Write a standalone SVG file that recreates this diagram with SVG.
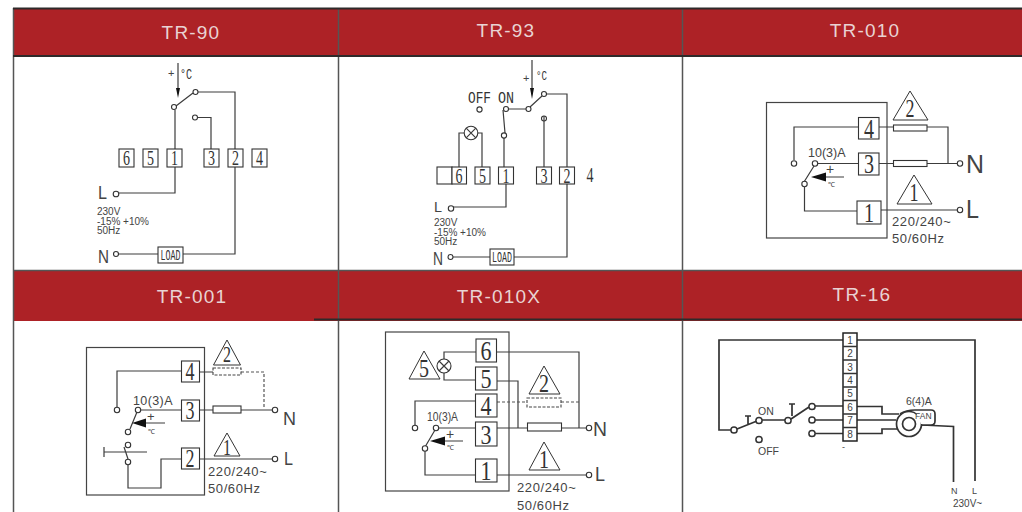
<svg xmlns="http://www.w3.org/2000/svg" width="1022" height="512" viewBox="0 0 1022 512">
<style>
.hd{fill:#ad2226}
.ti{font:19px "Liberation Sans",Arial,sans-serif;fill:#e9d3d3;text-anchor:middle;letter-spacing:1.2px}
.w{fill:none;stroke:#3c3c3c;stroke-width:1.2}
.d{fill:none;stroke:#555;stroke-width:1.2;stroke-dasharray:3 2}
.c{fill:#fff;stroke:#333;stroke-width:1.1}
.b{fill:#fff;stroke:#333;stroke-width:1.1}
.o{fill:none;stroke:#444;stroke-width:1.2}
.r{fill:#fff;stroke:#333;stroke-width:1.1}
.rd{fill:#fff;stroke:#444;stroke-width:1.1;stroke-dasharray:3 1.5}
.t{fill:#fff;stroke:#333;stroke-width:1}
.n{font-family:"Liberation Serif",serif;fill:#333;text-anchor:middle}
.s{font-family:"Liberation Sans",Arial,sans-serif;fill:#444}
.m{font-family:"Liberation Mono",monospace;fill:#333}
.a{fill:#111}
.fr{stroke:#555;stroke-width:1.5;fill:none}
.fd{stroke:#2e2a2a;stroke-width:1.8;fill:none}
</style>
<rect width="1022" height="512" fill="#fff"/>
<g id="grid">
<rect class="hd" x="13" y="8" width="1009" height="48"/>
<rect class="hd" x="13" y="271" width="1009" height="50"/>
<path class="fr" d="M13.5 8V512M338.5 8V512M682.5 8V512M13 270.5H1022"/>
<path class="fd" d="M13 8.5H1022M13 56H1022M314 319.5H1022"/>
<text class="ti" x="191" y="39">TR-90</text>
<text class="ti" x="506" y="37">TR-93</text>
<text class="ti" x="865" y="37">TR-010</text>
<text class="ti" x="192" y="303">TR-001</text>
<text class="ti" x="499" y="303">TR-010X</text>
<text class="ti" x="862" y="301">TR-16</text>
</g>

<g id="tr90">
<g id="tr90-connectors">
<path class="w" d="M178 63V90M198 92H235V254H183M175 110V193H119M198 117.500H211V149M176 106L193 93M119 254H158"/>
<path class="a" d="M176 88H180L178 98Z"/>
</g>
<text class="s" x="168" y="77" font-size="11">+</text>
<text class="m" x="180" y="79" font-size="15" textLength="12" lengthAdjust="spacingAndGlyphs">°C</text>
<circle class="c" cx="195.500" cy="92" r="2.500"/><circle class="c" cx="174" cy="107" r="2.500"/><circle class="c" cx="195" cy="117.500" r="2.500"/>
<g id="tr90-t6"><rect class="b" x="119" y="149" width="15" height="18"/><text class="n" x="126.500" y="165" font-size="22" textLength="7" lengthAdjust="spacingAndGlyphs">6</text></g>
<g id="tr90-t5"><rect class="b" x="143" y="149" width="15" height="18"/><text class="n" x="150.500" y="165" font-size="22" textLength="7" lengthAdjust="spacingAndGlyphs">5</text></g>
<g id="tr90-t1"><rect class="b" x="167" y="149" width="15" height="18"/><text class="n" x="174.500" y="165" font-size="22" textLength="7" lengthAdjust="spacingAndGlyphs">1</text></g>
<g id="tr90-t3"><rect class="b" x="204" y="149" width="15" height="18"/><text class="n" x="211.500" y="165" font-size="22" textLength="7" lengthAdjust="spacingAndGlyphs">3</text></g>
<g id="tr90-t2"><rect class="b" x="228" y="149" width="15" height="18"/><text class="n" x="235.500" y="165" font-size="22" textLength="7" lengthAdjust="spacingAndGlyphs">2</text></g>
<g id="tr90-t4"><rect class="b" x="252" y="149" width="15" height="18"/><text class="n" x="259.500" y="165" font-size="22" textLength="7" lengthAdjust="spacingAndGlyphs">4</text></g>
<text class="s" x="98" y="199" font-size="18" textLength="9" lengthAdjust="spacingAndGlyphs">L</text>
<circle class="c" cx="116" cy="194" r="2.800"/>
<text class="s" x="97" y="214.500" font-size="10">230V</text>
<text class="s" x="97" y="225" font-size="10">-15% +10%</text>
<text class="s" x="97" y="234" font-size="10">50Hz</text>
<text class="s" x="98" y="263" font-size="19" textLength="11" lengthAdjust="spacingAndGlyphs">N</text>
<circle class="c" cx="116" cy="254" r="2.500"/>
<g id="tr90-load"><rect class="b" x="158" y="247" width="25" height="16"/><text class="m" x="160.500" y="260" font-size="14" textLength="20" lengthAdjust="spacingAndGlyphs">LOAD</text></g>
</g>

<g id="tr93">
<g id="tr93-connectors">
<path class="w" d="M532 60V90M503 110L505 133M508 109H526M530 107L542 96M546 94H567V167M567 184V257H514M544 118V167M504 138V167M506 184V207H453M453 257H490M464 133H459V167M478 133H482V167"/>
<path class="a" d="M530 88H534L532 99Z"/>
</g>
<text class="s" x="523" y="82" font-size="11">+</text>
<text class="m" x="536" y="80" font-size="13" textLength="11" lengthAdjust="spacingAndGlyphs">°C</text>
<text class="m" x="468" y="103" font-size="16" textLength="23" lengthAdjust="spacingAndGlyphs">OFF</text>
<text class="m" x="498" y="103" font-size="16" textLength="16" lengthAdjust="spacingAndGlyphs">ON</text>
<circle class="c" cx="479.500" cy="109.500" r="2.600"/><circle class="c" cx="506" cy="109" r="2.500"/><circle class="c" cx="528.500" cy="109" r="2.500"/><circle class="c" cx="544" cy="94" r="2.500"/><circle class="c" cx="504" cy="135.500" r="2.600"/>
<circle class="c" cx="544" cy="118.500" r="2.500"/><path class="w" d="M544 116V121"/>
<g id="tr93-lamp"><circle class="c" cx="471" cy="133" r="6.800"/><path class="w" d="M466.200 128.200L475.800 137.800M475.800 128.200L466.200 137.800"/></g>
<rect class="b" x="437" y="167" width="15" height="17"/>
<g id="tr93-t6"><rect class="b" x="452" y="167" width="14.500" height="17"/><text class="n" x="459" y="182.500" font-size="22" textLength="7" lengthAdjust="spacingAndGlyphs">6</text></g>
<g id="tr93-t5"><rect class="b" x="475" y="167" width="15" height="17"/><text class="n" x="482.500" y="182.500" font-size="22" textLength="7" lengthAdjust="spacingAndGlyphs">5</text></g>
<g id="tr93-t1"><rect class="b" x="498.500" y="167" width="15" height="17"/><text class="n" x="506" y="182.500" font-size="22" textLength="7" lengthAdjust="spacingAndGlyphs">1</text></g>
<g id="tr93-t3"><rect class="b" x="536.500" y="167" width="15" height="17"/><text class="n" x="544" y="182.500" font-size="22" textLength="7" lengthAdjust="spacingAndGlyphs">3</text></g>
<g id="tr93-t2"><rect class="b" x="559.500" y="167" width="15" height="17"/><text class="n" x="567" y="182.500" font-size="22" textLength="7" lengthAdjust="spacingAndGlyphs">2</text></g>
<text class="n" x="590" y="181.500" font-size="22" textLength="7" lengthAdjust="spacingAndGlyphs">4</text>
<text class="s" x="434" y="212" font-size="15" textLength="8" lengthAdjust="spacingAndGlyphs">L</text>
<circle class="c" cx="451" cy="208.500" r="2.700"/>
<text class="s" x="434" y="226" font-size="10">230V</text>
<text class="s" x="434" y="236" font-size="10">-15% +10%</text>
<text class="s" x="434" y="245" font-size="10">50Hz</text>
<text class="s" x="433" y="265" font-size="18" textLength="10" lengthAdjust="spacingAndGlyphs">N</text>
<circle class="c" cx="450.500" cy="257" r="2.500"/>
<g id="tr93-load"><rect class="b" x="490" y="249" width="24" height="16"/><text class="m" x="492" y="262" font-size="14" textLength="20" lengthAdjust="spacingAndGlyphs">LOAD</text></g>
</g>

<g id="tr010">
<rect class="o" x="766.500" y="102.500" width="120.500" height="135.500"/>
<g id="tr010-connectors">
<path class="w" d="M858 127H794V160M818 163.500H858M804 182L814 166M804.500 187V211H857M879 127H948V163.500M879 163.500H957M881 210H957M826 177H844"/>
<path class="a" d="M811 177L826 172.500V181.500Z"/>
</g>
<text class="s" x="826" y="174" font-size="14" fill="#333">+</text>
<text class="n" x="831" y="187" font-size="7">℃</text>
<text class="s" x="808" y="157" font-size="12.500">10(3)A</text>
<circle class="c" cx="794" cy="163.500" r="2.700"/><circle class="c" cx="815" cy="163.500" r="2.700"/><circle class="c" cx="804.500" cy="184" r="2.700"/><circle class="c" cx="960" cy="163.500" r="2.700"/><circle class="c" cx="960" cy="210" r="2.700"/>
<rect class="r" x="893.500" y="125" width="33.500" height="6"/><rect class="r" x="893.500" y="160.500" width="33.500" height="6"/>
<g id="tr010-t4"><rect class="b" x="858.500" y="117.500" width="20.500" height="21.500"/><text class="n" x="869" y="137.500" font-size="27" textLength="10" lengthAdjust="spacingAndGlyphs">4</text></g>
<g id="tr010-t3"><rect class="b" x="858.500" y="153" width="20.500" height="22"/><text class="n" x="869" y="173" font-size="27" textLength="10" lengthAdjust="spacingAndGlyphs">3</text></g>
<g id="tr010-t1"><rect class="b" x="857" y="201" width="24" height="23"/><text class="n" x="869" y="222" font-size="27" textLength="10" lengthAdjust="spacingAndGlyphs">1</text></g>
<g id="tr010-w2"><path class="t" d="M910 91L893 120H928Z"/><text class="n" x="910" y="116.500" font-size="25" textLength="9" lengthAdjust="spacingAndGlyphs">2</text></g>
<g id="tr010-w1"><path class="t" d="M914 175L897 204H932Z"/><text class="n" x="914" y="200.500" font-size="25" textLength="9" lengthAdjust="spacingAndGlyphs">1</text></g>
<text class="s" x="966" y="172.500" font-size="26" textLength="18" lengthAdjust="spacingAndGlyphs">N</text>
<text class="s" x="966" y="218" font-size="26" textLength="13" lengthAdjust="spacingAndGlyphs">L</text>
<text class="s" x="892" y="226" font-size="13" letter-spacing=".6">220/240~</text>
<text class="s" x="892" y="243" font-size="13" letter-spacing=".6">50/60Hz</text>
</g>

<g id="tr001">
<rect class="o" x="86.500" y="347.500" width="118" height="147.500"/>
<g id="tr001-connectors">
<path class="w" d="M181 371H117V407M141 410H181M130 429L137 412M104 447V457M104 452H147M124 447L128 459M128 465V488H161V459H181M145 423H165M199 372H213M199 410H272M199 459H272"/>
<path class="d" d="M241 372H264V409"/>
<path class="a" d="M132 423L146 418.500V427.500Z"/>
</g>
<text class="s" x="147" y="421" font-size="13" fill="#333">+</text>
<text class="n" x="151" y="434" font-size="7">℃</text>
<text class="s" x="133" y="405" font-size="12.500" letter-spacing=".4">10(3)A</text>
<circle class="c" cx="117" cy="410" r="2.700"/><circle class="c" cx="138" cy="410" r="2.700"/><circle class="c" cx="128" cy="432" r="2.700"/><circle class="c" cx="128" cy="445" r="2.700"/><circle class="c" cx="128" cy="462" r="2.700"/><circle class="c" cx="275" cy="410" r="2.700"/><circle class="c" cx="275" cy="459" r="2.700"/>
<rect class="rd" x="213" y="368" width="28" height="7"/><rect class="r" x="213" y="406" width="28" height="7"/>
<g id="tr001-t4"><rect class="b" x="181.500" y="361" width="18" height="21"/><text class="n" x="190" y="380" font-size="25" textLength="9" lengthAdjust="spacingAndGlyphs">4</text></g>
<g id="tr001-t3"><rect class="b" x="181.500" y="400" width="18" height="21"/><text class="n" x="190" y="419" font-size="25" textLength="9" lengthAdjust="spacingAndGlyphs">3</text></g>
<g id="tr001-t2"><rect class="b" x="181.500" y="448" width="18" height="21"/><text class="n" x="190" y="467" font-size="25" textLength="9" lengthAdjust="spacingAndGlyphs">2</text></g>
<g id="tr001-w2"><path class="t" d="M227 340L213.500 365H240.500Z"/><text class="n" x="227" y="362" font-size="23" textLength="8" lengthAdjust="spacingAndGlyphs">2</text></g>
<g id="tr001-w1"><path class="t" d="M227 433L214 456H240Z"/><text class="n" x="227" y="455" font-size="23" textLength="8" lengthAdjust="spacingAndGlyphs">1</text></g>
<text class="s" x="283" y="424.500" font-size="19" textLength="13" lengthAdjust="spacingAndGlyphs">N</text>
<text class="s" x="284" y="465" font-size="18" textLength="9" lengthAdjust="spacingAndGlyphs">L</text>
<text class="s" x="208" y="476" font-size="13" letter-spacing=".6">220/240~</text>
<text class="s" x="208" y="493" font-size="13" letter-spacing=".6">50/60Hz</text>
</g>

<g id="tr010x">
<rect class="o" x="385.500" y="332" width="123.500" height="159"/>
<g id="tr010x-connectors">
<path class="w" d="M444 359V352H476M444 373V380H476M497 352H579V428M497 381H518V428M476 401H415V425M439 428H475M497 428H587M497 475H587M425 447L435 430M425 451V475H475M444 441H463"/>
<path class="d" d="M497 402H527M561 402H579"/>
<path class="a" d="M430 441L445 436.500V445.500Z"/>
</g>
<text class="s" x="446" y="439" font-size="14" fill="#333">+</text>
<text class="n" x="450" y="450" font-size="7">℃</text>
<text class="s" x="427" y="421" font-size="12" textLength="31" lengthAdjust="spacingAndGlyphs">10(3)A</text>
<circle class="c" cx="415" cy="428" r="2.700"/><circle class="c" cx="436" cy="428" r="2.700"/><circle class="c" cx="425" cy="448.500" r="2.700"/><circle class="c" cx="589" cy="428" r="2.700"/><circle class="c" cx="589" cy="475" r="2.700"/>
<g id="tr010x-lamp"><circle class="c" cx="444" cy="366" r="7"/><path class="w" d="M439 361L449 371M449 361L439 371"/></g>
<rect class="rd" x="527" y="398" width="34" height="9"/><rect class="r" x="527.500" y="423" width="34" height="8"/>
<g id="tr010x-t6"><rect class="b" x="476" y="339" width="20.500" height="23"/><text class="n" x="486" y="360" font-size="28" textLength="11" lengthAdjust="spacingAndGlyphs">6</text></g>
<g id="tr010x-t5"><rect class="b" x="475.500" y="367" width="21.500" height="23"/><text class="n" x="486" y="388" font-size="28" textLength="11" lengthAdjust="spacingAndGlyphs">5</text></g>
<g id="tr010x-t4"><rect class="b" x="475.500" y="394" width="21.500" height="23"/><text class="n" x="486" y="415" font-size="28" textLength="11" lengthAdjust="spacingAndGlyphs">4</text></g>
<g id="tr010x-t3"><rect class="b" x="475.500" y="422" width="21.500" height="24"/><text class="n" x="486" y="444" font-size="28" textLength="11" lengthAdjust="spacingAndGlyphs">3</text></g>
<g id="tr010x-t1"><rect class="b" x="475.500" y="459" width="21.500" height="23"/><text class="n" x="486" y="480" font-size="28" textLength="11" lengthAdjust="spacingAndGlyphs">1</text></g>
<g id="tr010x-w5"><path class="t" d="M424 351L409 379H440Z"/><text class="n" x="424" y="377" font-size="25" textLength="10" lengthAdjust="spacingAndGlyphs">5</text></g>
<g id="tr010x-w2"><path class="t" d="M544 366L529 394H560Z"/><text class="n" x="544" y="392" font-size="25" textLength="10" lengthAdjust="spacingAndGlyphs">2</text></g>
<g id="tr010x-w1"><path class="t" d="M544 442L529 470H560Z"/><text class="n" x="544" y="468" font-size="25" textLength="10" lengthAdjust="spacingAndGlyphs">1</text></g>
<text class="s" x="593" y="436" font-size="20" textLength="14" lengthAdjust="spacingAndGlyphs">N</text>
<text class="s" x="595" y="481" font-size="20" textLength="10" lengthAdjust="spacingAndGlyphs">L</text>
<text class="s" x="517" y="492" font-size="13" letter-spacing=".6">220/240~</text>
<text class="s" x="517" y="510" font-size="13" letter-spacing=".6">50/60Hz</text>
</g>

<g id="tr16">
<g id="tr16-connectors">
<path d="M843 340H719V430H731M857 340H975V481M737 429L757 421M762 420H785M791 419L809 407M815 406H843M815 420H843M815 433.500H843M857 406.500H882V414H899M857 420H896M857 433.500H882V429H897M922 425L953.500 426.500V482M745 416H751M748 416V425M789 404H795M792 404V416" fill="none" stroke="#333" stroke-width="1.700"/>
</g>
<g id="tr16-strip">
<rect x="843" y="333" width="14" height="108" fill="#fff" stroke="#222" stroke-width="1.500"/>
<path d="M843 346.500H857M843 360H857M843 373.500H857M843 387H857M843 400.500H857M843 414H857M843 427.500H857" stroke="#333" stroke-width="1.400"/>
<g font-size="10" class="s" text-anchor="middle">
<text x="850" y="344">1</text><text x="850" y="357">2</text><text x="850" y="371">3</text><text x="850" y="384">4</text><text x="850" y="397">5</text><text x="850" y="411">6</text><text x="850" y="424">7</text><text x="850" y="438">8</text>
</g>
</g>
<circle cx="734" cy="430" r="3.100" fill="#fff" stroke="#333" stroke-width="1.500"/><circle cx="759" cy="420.500" r="3.100" fill="#fff" stroke="#333" stroke-width="1.500"/><circle cx="759" cy="439.500" r="3.100" fill="#fff" stroke="#333" stroke-width="1.500"/><circle cx="788" cy="420.500" r="3.100" fill="#fff" stroke="#333" stroke-width="1.500"/><circle cx="812" cy="406.500" r="3.100" fill="#fff" stroke="#333" stroke-width="1.500"/><circle cx="812" cy="420" r="3.100" fill="#fff" stroke="#333" stroke-width="1.500"/><circle cx="812" cy="433.500" r="3.100" fill="#fff" stroke="#333" stroke-width="1.500"/>
<g id="tr16-fan">
<path d="M900 414Q906 410 915 410H931Q935 410 935 414V421Q935 425 931 425H922" fill="#fff" stroke="#333" stroke-width="1.700"/>
<circle cx="909" cy="424" r="12.500" fill="#fff" stroke="#333" stroke-width="1.700"/>
<path d="M915 411H930Q934 411 934 414V421Q934 424 930 424H921Z" fill="#fff"/>
<circle cx="909" cy="424" r="6.500" fill="#fff" stroke="#333" stroke-width="1.700"/>
<text class="s" x="915" y="419" font-size="8.500">FAN</text>
</g>
<text class="s" x="906" y="405" font-size="10.500">6(4)A</text>
<text class="s" x="758" y="415" font-size="10.500">ON</text>
<text class="s" x="758" y="455" font-size="10.500">OFF</text>
<text class="s" x="842" y="450" font-size="9">-</text>
<text class="s" x="951" y="494" font-size="9">N</text>
<text class="s" x="972" y="494" font-size="9">L</text>
<text class="s" x="953" y="507" font-size="10">230V~</text>
</g>
</svg>
